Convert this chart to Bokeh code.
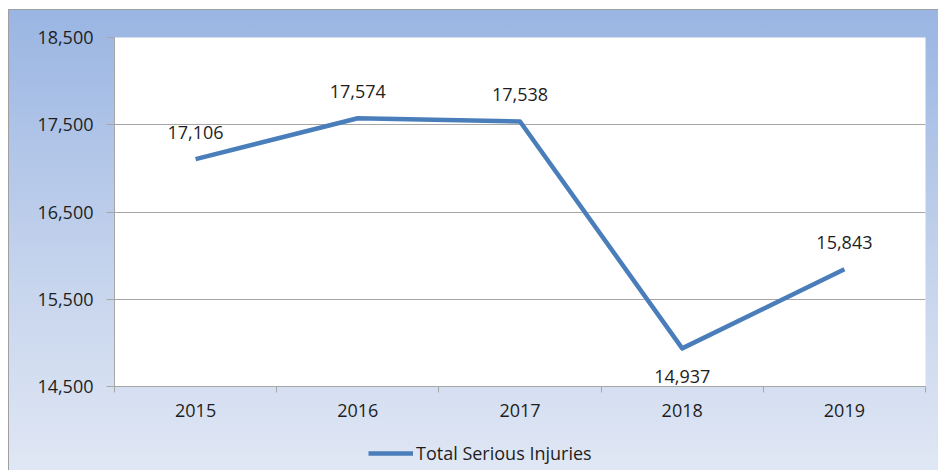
from bokeh.plotting import figure
from bokeh.layouts import column
from bokeh.models import Range1d, FixedTicker, NumeralTickFormatter, Legend, LegendItem
from bokeh.embed import file_html
from bokeh.resources import INLINE
from bokeh.core.properties import value

# ---- data ----
years = ["2015", "2016", "2017", "2018", "2019"]
injuries = [17106, 17574, 17538, 14937, 15843]
y_ticks = [14500, 15500, 16500, 17500, 18500]
series_name = "Total Serious Injuries"
label_side = ["above", "above", "above", "below", "above"]

FONT_NAME = "Open Sans"
FS = "18px"
TXT = "#1e1e1e"
GRID = "#a6a6a6"
BLUE = "#4a7ebb"

x = [i + 0.5 for i in range(len(years))]
labels = [f"{v:,}" for v in injuries]
offsets = [-27 if s == "above" else 28 for s in label_side]

p = figure(width=938, height=436, output_backend="svg", toolbar_location=None,
           title=None,
           x_range=Range1d(0, len(years)), y_range=Range1d(y_ticks[0], y_ticks[-1]),
           min_border_left=114, min_border_right=13, min_border_top=37,
           min_border_bottom=50)

r = p.line(x, injuries, line_width=4.5, line_color=BLUE, line_join="round")
p.text(x, injuries, text=labels, y_offset=offsets, text_align="center",
       text_baseline="middle", text_font=value(FONT_NAME), text_font_size=FS,
       text_color=TXT)

# x axis: labels at category centres, tick marks at category boundaries
xa = p.xaxis[0]
xa.ticker = FixedTicker(ticks=x, minor_ticks=list(range(len(years) + 1)))
xa.major_label_overrides = {xi: yr for xi, yr in zip(x, years)}
xa.major_tick_out = 0
xa.major_tick_in = 0
xa.minor_tick_out = 6
xa.minor_tick_in = 0
xa.minor_tick_line_color = GRID
xa.axis_line_color = GRID
xa.major_label_standoff = 11
xa.major_label_text_font = FONT_NAME
xa.major_label_text_font_size = FS
xa.major_label_text_color = TXT

ya = p.yaxis[0]
ya.ticker = FixedTicker(ticks=y_ticks, minor_ticks=[])
ya.formatter = NumeralTickFormatter(format="0,0")
ya.major_tick_out = 8
ya.major_tick_in = 0
ya.major_tick_line_color = GRID
ya.minor_tick_line_color = None
ya.axis_line_color = GRID
ya.major_label_standoff = 13
ya.major_label_text_font = FONT_NAME
ya.major_label_text_font_size = FS
ya.major_label_text_color = TXT

p.xgrid.visible = False
p.ygrid.ticker = FixedTicker(ticks=y_ticks, minor_ticks=[])
p.ygrid.grid_line_color = GRID
p.ygrid.grid_line_width = 1

p.outline_line_color = None
p.background_fill_color = "white"
p.border_fill_color = None

# ---- legend strip below the chart ----
p2 = figure(width=938, height=34, output_backend="svg", toolbar_location=None,
            title=None, x_range=Range1d(0, 1), y_range=Range1d(0, 1),
            min_border=0, x_axis_type=None, y_axis_type=None)
p2.grid.visible = False
p2.outline_line_color = None
p2.background_fill_color = None
p2.border_fill_color = None
r2 = p2.line(x, injuries, line_width=4.5, line_color=BLUE, visible=False)

legend = Legend(items=[LegendItem(label=series_name, renderers=[r2])],
                location=(254, 5), orientation="horizontal",
                padding=0, margin=0, spacing=0,
                glyph_width=45, glyph_height=18, label_height=18,
                label_standoff=3,
                label_text_font=FONT_NAME, label_text_font_size=FS,
                label_text_color=TXT,
                inactive_fill_alpha=0,
                background_fill_alpha=0, border_line_color=None)
p2.add_layout(legend, "center")

layout = column(p, p2, spacing=0)
layout.styles = {
    "background": "linear-gradient(to bottom, #98b4e2 0%, #c3d2ec 55%, #e0e7f4 100%)",
    "box-shadow": "inset 8px 9px 0 white, inset 9px 10px 0 #a0a0a0",
}

open("out.html", "w").write(file_html(layout, INLINE))
